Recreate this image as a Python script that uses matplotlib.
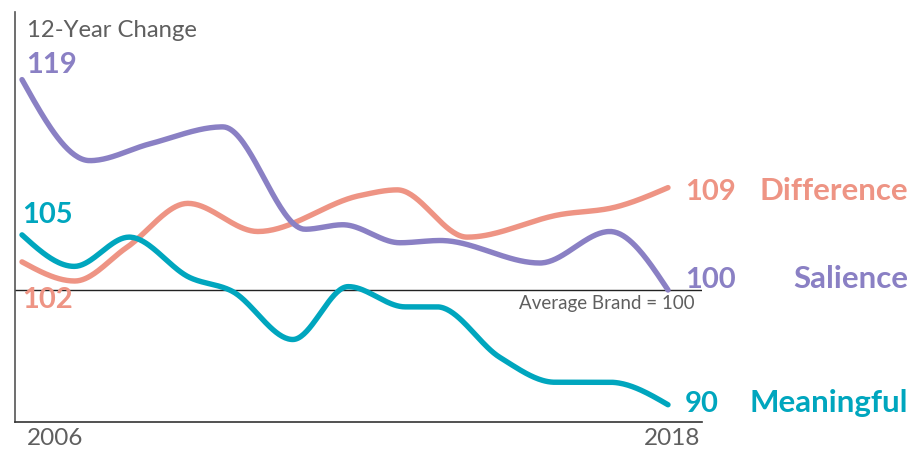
import numpy as np
import matplotlib
matplotlib.use("Agg")
import matplotlib.pyplot as plt

# ---- data ----
sal_years = [2006.00, 2007.26, 2008.38, 2009.73, 2011.26, 2011.96, 2013.02, 2013.77, 2015.62, 2016.92, 2018.00]
sal_vals = [118.7, 111.5, 113.0, 114.5, 105.4, 105.8, 104.2, 104.4, 102.4, 105.2, 100.0]

mea_years = [2006.00, 2006.97, 2007.99, 2009.12, 2009.90, 2011.03, 2012.06, 2013.12, 2013.71, 2014.88, 2015.90, 2016.92, 2018.00]
mea_vals = [104.9, 102.1, 104.7, 101.1, 99.9, 95.6, 100.3, 98.5, 98.5, 94.0, 91.8, 91.8, 89.8]

dif_years = [2006.00, 2006.98, 2007.95, 2009.08, 2010.38, 2012.28, 2012.97, 2014.27, 2015.99, 2017.05, 2018.00]
dif_vals = [102.5, 100.8, 103.8, 107.7, 105.2, 108.4, 108.9, 104.7, 106.7, 107.4, 109.1]

series_names = ["Difference", "Salience", "Meaningful"]
start_labels = ["102", "119", "105"]
end_labels = ["109", "100", "90"]
x_tick_labels = ["2006", "2018"]
baseline_value = 100
title_text = "12-Year Change"
baseline_text = "Average Brand = 100"

C_SAL = "#8A80C4"
C_DIF = "#EE9484"
C_MEA = "#00A6BE"
GREY = "#5f5f5f"


def monotone_x(x, y, n=40):
    """Monotone cubic (d3.curveMonotoneX-style) rendering of a polyline."""
    x = np.asarray(x, float)
    y = np.asarray(y, float)
    m = len(x)
    h = np.diff(x)
    s = np.diff(y) / h
    t = np.zeros(m)
    for i in range(1, m - 1):
        s0, s1 = s[i - 1], s[i]
        p = (s0 * h[i] + s1 * h[i - 1]) / (h[i - 1] + h[i])
        t[i] = (np.sign(s0) + np.sign(s1)) * min(abs(s0), abs(s1), 0.5 * abs(p))
    t[0] = (3 * s[0] - t[1]) / 2
    t[-1] = (3 * s[-1] - t[-2]) / 2
    xs, ys = [], []
    for i in range(m - 1):
        u = np.linspace(0, 1, n, endpoint=(i == m - 2))
        h00 = 2 * u**3 - 3 * u**2 + 1
        h10 = u**3 - 2 * u**2 + u
        h01 = -2 * u**3 + 3 * u**2
        h11 = u**3 - u**2
        xs.append(x[i] + u * h[i])
        ys.append(h00 * y[i] + h10 * h[i] * t[i] + h01 * y[i + 1] + h11 * h[i] * t[i + 1])
    return np.concatenate(xs), np.concatenate(ys)


W, H = 915, 450
fig = plt.figure(figsize=(W / 100, H / 100), dpi=100)
fig.patch.set_facecolor("white")

# axes placed in pixel terms
L, R, T, B = 15, 702, 12, 422
ax = fig.add_axes([L / W, 1 - B / H, (R - L) / W, (B - T) / H])

px_per_year = (668 - 22) / 12.0
px_per_unit = 11.25
ax.set_xlim(2006 - (22 - L) / px_per_year, 2018 + (R - 668) / px_per_year)
ax.set_ylim(baseline_value - (B - 290) / px_per_unit, baseline_value + (290 - T) / px_per_unit)

for s in ["top", "right"]:
    ax.spines[s].set_visible(False)
ax.spines["left"].set_color("#555555")
ax.spines["left"].set_linewidth(1.2)
ax.spines["bottom"].set_color("#333333")
ax.spines["bottom"].set_linewidth(1.2)
ax.set_xticks([])
ax.set_yticks([])

ax.axhline(baseline_value, color="#222222", lw=1.0, zorder=1)

lw = 3.9
for yrs, vals, c, z in [(dif_years, dif_vals, C_DIF, 2), (sal_years, sal_vals, C_SAL, 3),
                        (mea_years, mea_vals, C_MEA, 4)]:
    xs, ys = monotone_x(yrs, vals)
    ax.plot(xs, ys, color=c, lw=lw, solid_capstyle="round", solid_joinstyle="round", zorder=z)


def fx(x):
    return x / W


def fy(y):
    return 1 - y / H


FONT = "Lato"
fig.text(fx(27), fy(37), title_text, fontsize=17.2, color=GREY, family=FONT, va="baseline", ha="left")

num_fs = 21
name_fs = 22.5
# start labels
fig.text(fx(26), fy(73), start_labels[1], fontsize=num_fs, color=C_SAL, family=FONT, weight="bold", va="baseline")
fig.text(fx(22), fy(223), start_labels[2], fontsize=num_fs, color=C_MEA, family=FONT, weight="bold", va="baseline")
fig.text(fx(22), fy(308), start_labels[0], fontsize=num_fs, color=C_DIF, family=FONT, weight="bold", va="baseline")

# end labels
end_info = [(200, C_DIF), (288, C_SAL), (412, C_MEA)]
for (yb, c), lab, name in zip(end_info, end_labels, series_names):
    fig.text(fx(685), fy(yb), lab, fontsize=num_fs, color=c, family=FONT, weight="bold", va="baseline", ha="left")
    fig.text(fx(908), fy(yb), name, fontsize=name_fs, color=c, family=FONT, weight="bold", va="baseline", ha="right")

fig.text(fx(695), fy(309), baseline_text, fontsize=13.5, color=GREY, family=FONT, va="baseline", ha="right")

fig.text(fx(27), fy(445), x_tick_labels[0], fontsize=17.5, color=GREY, family=FONT, va="baseline", ha="left")
fig.text(fx(700), fy(445), x_tick_labels[1], fontsize=17.5, color=GREY, family=FONT, va="baseline", ha="right")

fig.savefig("out.png", dpi=100, facecolor="white")
